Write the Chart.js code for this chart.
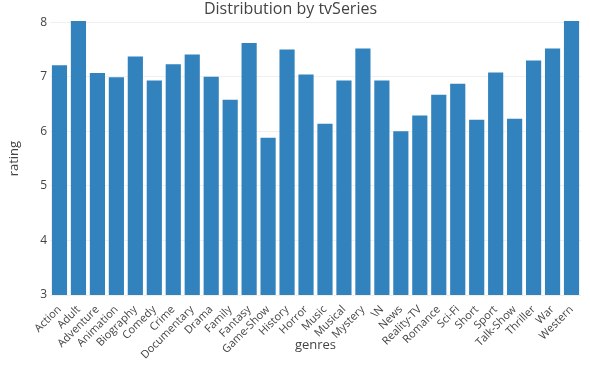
<!DOCTYPE html>
<html>
<head>
<meta charset="utf-8">
<script src="https://cdn.jsdelivr.net/npm/chart.js@4"></script>
<style>
  html, body { margin: 0; padding: 0; background: #fff; }
  #wrap { width: 590px; height: 379px; }
</style>
</head>
<body>
<div id="wrap"><canvas id="gChart"></canvas></div>
<script>
// genres (x categories)
var genres = ['Action', 'Adult', 'Adventure', 'Animation', 'Biography', 'Comedy', 'Crime',
  'Documentary', 'Drama', 'Family', 'Fantasy', 'Game-Show', 'History', 'Horror', 'Music',
  'Musical', 'Mystery', '\\N', 'News', 'Reality-TV', 'Romance', 'Sci-Fi', 'Short', 'Sport',
  'Talk-Show', 'Thriller', 'War', 'Western'];

// mean rating per genre
var rating = [7.21, 8.02, 7.07, 6.99, 7.37, 6.93, 7.23,
  7.41, 7.00, 6.58, 7.62, 5.88, 7.50, 7.04, 6.14,
  6.93, 7.52, 6.93, 6.00, 6.29, 6.67, 6.87, 6.21, 7.08,
  6.23, 7.30, 7.52, 8.02];

var yTicks = [3, 4, 5, 6, 7, 8];

const data = {
  labels: genres,
  datasets: [{
    label: 'rating',
    backgroundColor: 'rgb(49, 130, 189)',
    data: rating,
    barPercentage: 0.8,
    categoryPercentage: 1.0,
    // let the two 8+ bars poke just above the top, but cut them at the x axis
    clip: { left: 0, top: false, right: 0, bottom: 0 }
  }]
};

const config = {
  type: 'bar',
  data: data,
  options: {
    responsive: true,
    maintainAspectRatio: false,
    animation: false,
    layout: { padding: { left: 0, right: 9, top: 0, bottom: 12 } },
    plugins: {
      legend: { display: false },
      tooltip: { enabled: false },
      title: {
        display: true,
        text: 'Distribution by tvSeries',
        color: '#444',
        font: { family: 'Open Sans', size: 16, weight: 'normal' },
        padding: { top: 0, bottom: 3 }
      }
    },
    scales: {
      x: {
        grid: { display: false },
        border: { display: false },
        ticks: {
          color: '#444',
          font: { family: 'Open Sans', size: 11 },
          minRotation: 45,
          maxRotation: 45,
          autoSkip: false,
          padding: 0
        },
        title: {
          display: true,
          text: 'genres',
          color: '#444',
          font: { family: 'Open Sans', size: 13 },
          padding: { top: 0, bottom: 14 }
        },
        afterFit: function (scale) { scale.height = 72; }
      },
      y: {
        min: yTicks[0],
        max: yTicks[yTicks.length - 1],
        afterBuildTicks: function (scale) {
          scale.ticks = yTicks.map(function (v) { return { value: v }; });
        },
        grid: { color: '#f0f0f0', drawTicks: false },
        border: { display: false },
        ticks: {
          color: '#444',
          font: { family: 'Open Sans', size: 12 },
          padding: 3
        },
        title: {
          display: true,
          text: 'rating',
          color: '#444',
          font: { family: 'Open Sans', size: 13 },
          padding: { top: 6, bottom: 0 }
        },
        afterFit: function (scale) { scale.width = 50; }
      }
    }
  }
};

var gChart = new Chart(document.getElementById('gChart'), config);
</script>
</body>
</html>
